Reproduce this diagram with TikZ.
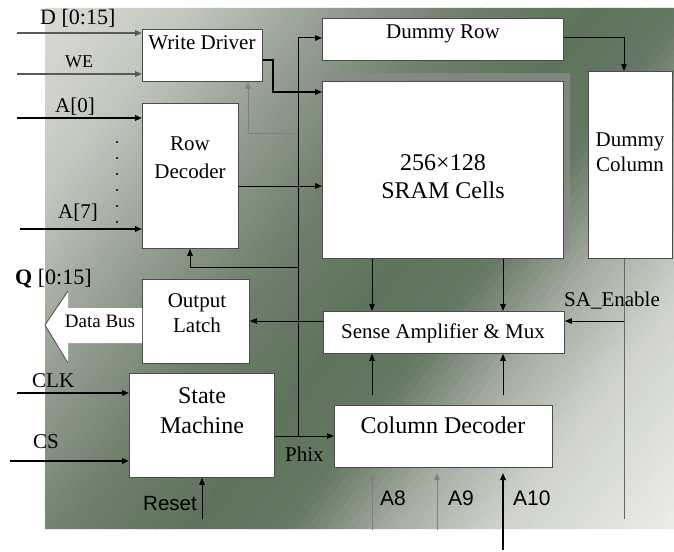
\documentclass[tikz,border=0pt]{standalone}
\usepackage{fontspec}
\setmainfont{Liberation Serif}
\newfontfamily\sansfam{Liberation Sans}
\usetikzlibrary{arrows.meta}
\definecolor{g0}{HTML}{DCDFD9}
\definecolor{g1}{HTML}{C3C8BF}
\definecolor{g2}{HTML}{929C8F}
\definecolor{g3}{HTML}{6E7F6B}
\definecolor{g4}{HTML}{5E725C}
\definecolor{g5}{HTML}{657863}
\definecolor{g6}{HTML}{A3AB9F}
\definecolor{g7}{HTML}{CFD3CC}
\definecolor{g8}{HTML}{ECEEEA}
\newcommand\bgseg[4]{%
  \pgfmathtruncatemacro\segn{(#2-#1)/12}%
  \foreach \i in {1,...,\segn}{%
    \pgfmathsetmacro\sa{#1+(\i-1)*(#2-#1)/\segn}%
    \pgfmathsetmacro\sb{#1+\i*(#2-#1)/\segn+2}%
    \pgfmathsetmacro\pc{(\i-0.5)/\segn*100}%
    \fill[#4!\pc!#3] ({(\sa-8)/1.3},8) -- ({(\sb-8)/1.3},8) -- ({(\sb-529)/1.3},529) -- ({(\sa-529)/1.3},529) -- cycle;
  }}
\begin{document}
\begin{tikzpicture}[x=1pt,y=-1pt,
  >={Triangle[length=7pt,width=5.5pt]},
  box/.style={draw=black!70, line width=0.8pt, fill=white, inner sep=0pt, anchor=north west},
  btxt/.style={font=\fontsize{21}{24}\selectfont, inner sep=0pt, anchor=base},
  bigtxt/.style={font=\fontsize{24}{28}\selectfont, inner sep=0pt, anchor=base},
  lab/.style={font=\fontsize{21}{24}\selectfont, inner sep=0pt, anchor=base west},
  slab/.style={font=\sansfam\fontsize{21}{24}\selectfont, inner sep=0pt, anchor=base west},
  wire/.style={draw=black, line width=1pt},
  twire/.style={draw=black, line width=1.7pt},
  gwire/.style={draw=black!65, line width=1.7pt},
  lwire/.style={draw=black!50, line width=1pt}]
\useasboundingbox (0,0) rectangle (674,551);
\fill[white] (0,0) rectangle (674,551);
% background gradient
\begin{scope}
\clip (45,8) rectangle (674,529);
\bgseg{40}{250}{g0}{g1}
\bgseg{250}{450}{g1}{g2}
\bgseg{450}{620}{g2}{g3}
\bgseg{620}{780}{g3}{g4}
\bgseg{780}{900}{g4}{g5}
\bgseg{900}{1030}{g5}{g6}
\bgseg{1030}{1180}{g6}{g7}
\bgseg{1180}{1420}{g7}{g8}
\end{scope}
% shadow of SRAM
\fill[black!45, opacity=0.75] (329,73) rectangle (570,250);
% boxes
\node[box, minimum width=120, minimum height=52] (wd) at (142,29) {};
\node[box, minimum width=96, minimum height=145] (rd) at (142,103) {};
\node[box, minimum width=241, minimum height=42] (dr) at (322,18) {};
\node[box, minimum width=241, minimum height=177] (sram) at (322,81) {};
\node[box, minimum width=84, minimum height=187] (dc) at (588,71) {};
\node[box, minimum width=107, minimum height=84] (ol) at (142,279) {};
\node[box, minimum width=145, minimum height=104] (sm) at (129,373) {};
\node[box, minimum width=241, minimum height=42] (sa) at (323,311) {};
\node[box, minimum width=218, minimum height=62] (cd) at (334,405) {};
% box texts
\node[btxt] (wdt) at (202,49) {Write Driver};
\node[btxt] (rdt1) at (190,150) {Row};
\node[btxt] (rdt2) at (190,178) {Decoder};
\node[btxt] (drt) at (443,39) {Dummy Row};
\node[bigtxt] (sramt1) at (443,170) {256×128};
\node[bigtxt] (sramt2) at (443,198) {SRAM Cells};
\node[btxt] (dct1) at (630,146) {Dummy};
\node[btxt] (dct2) at (630,171) {Column};
\node[btxt] (olt1) at (197,307) {Output};
\node[btxt] (olt2) at (197,332) {Latch};
\node[bigtxt] (smt1) at (202,403) {State};
\node[bigtxt] (smt2) at (202,433) {Machine};
\node[btxt] (sat) at (443,338) {Sense Amplifier \& Mux};
\node[bigtxt] (cdt) at (443,433) {Column Decoder};
% data bus arrow
\fill[white] (142,308) -- (68,308) -- (68,291) -- (45,325) -- (68,363) -- (68,343) -- (142,343) -- cycle;
\draw[black!70, line width=0.8pt] (68,291) -- (45,325) -- (68,363);
\node[btxt, font=\fontsize{19}{22}\selectfont] (dbt) at (100,327) {Data Bus};
% coordinates
\coordinate (dIn) at (17,33);
\coordinate (weIn) at (17,74);
\coordinate (a0In) at (17,118);
\coordinate (a7In) at (20,229);
\coordinate (clkIn) at (17,393);
\coordinate (csIn) at (10,461);
\coordinate (resetIn) at (202,519);
\coordinate (a8In) at (372,530);
\coordinate (a9In) at (437,530);
\coordinate (a10In) at (503,550);
\coordinate (cdbot) at (0,473);
\coordinate (cdtop) at (0,395);
\coordinate (busTop) at (298,38);
\coordinate (busBot) at (298,436);
\coordinate (fb1) at (298,133);
\coordinate (fb1x) at (248,133);
\coordinate (fb2) at (298,267);
\coordinate (fb2x) at (190,267);
\coordinate (wdo) at (0,60);
\coordinate (wd1) at (273,60);
\coordinate (wd2) at (273,92);
\coordinate (rdo) at (0,186);
\coordinate (drc) at (624,38);
\coordinate (c1) at (372,0);
\coordinate (c2) at (503,0);
\coordinate (dcl) at (624,0);
\coordinate (dcend) at (0,519);
\coordinate (saen) at (0,321);
% inputs
\draw[gwire,->] (dIn) -- (wd.west |- dIn);
\draw[gwire,->] (weIn) -- (wd.west |- weIn);
\draw[twire,->] (a0In) -- (rd.west |- a0In);
\draw[twire,->] (a7In) -- (rd.west |- a7In);
\draw[twire,->] (clkIn) -- (sm.west |- clkIn);
\draw[twire,->] (csIn) -- (sm.west |- csIn);
\draw[wire,->] (resetIn) -- (resetIn |- sm.south);
\draw[lwire,->] (a8In) -- (a8In |- cdbot);
\draw[lwire,->] (a9In) -- (a9In |- cdbot);
\draw[twire,->] (a10In) -- (a10In |- cdbot);
% dots
\foreach \y in {142,158,174,190,206,222} \fill (117,\y) circle (1.2);
% control bus
\draw[wire] (sm.east |- busBot) -- (busBot);
\draw[wire,->] (busBot) -- (cd.west |- busBot);
\draw[wire,->] (busBot) -- (busTop) -- (dr.west |- busTop);
\draw[lwire,->] (fb1) -- (fb1x) -- (fb1x |- wd.south);
\draw[wire,->] (fb2) -- (fb2x) -- (fb2x |- rd.south);
% data paths
\draw[line width=1.4pt,->] (wd.east |- wdo) -- (wd1) -- (wd2) -- (sram.west |- wd2);
\draw[wire,->] (rd.east |- rdo) -- (sram.west |- rdo);
\draw[wire,->] (dr.east |- drc) -- (drc) -- (drc |- dc.north);
\draw[wire,->] (sram.south -| c1) -- (sa.north -| c1);
\draw[wire,->] (sram.south -| c2) -- (sa.north -| c2);
\draw[wire,->] (cdtop -| c1) -- (sa.south -| c1);
\draw[wire,->] (cdtop -| c2) -- (sa.south -| c2);
\draw[draw=black!60, line width=1pt] (dc.south -| dcl) -- (dcl |- dcend);
\draw[wire,->] (dcl |- saen) -- (sa.east |- saen);
\draw[wire,->] (sa.west |- saen) -- (ol.east |- saen);
% labels
\node[lab, font=\fontsize{22}{24}\selectfont] (lD) at (40,25) {D [0:15]};
\node[lab, font=\fontsize{18}{20}\selectfont] (lWE) at (65,67) {WE};
\node[lab] (lA0) at (55,112) {A[0]};
\node[lab] (lA7) at (58,218) {A[7]};
\node[lab, font=\fontsize{22}{24}\selectfont] (lQ) at (15,284) {\textbf{Q} [0:15]};
\node[lab] (lCLK) at (32,387) {CLK};
\node[lab] (lCS) at (33,448) {CS};
\node[slab, font=\sansfam\fontsize{20.5}{24}\selectfont] (lReset) at (143,510) {Reset};
\node[lab] (lPhix) at (285,461) {Phix};
\node[slab] (lA8) at (380,505) {A8};
\node[slab] (lA9) at (448,505) {A9};
\node[slab] (lA10) at (513,505) {A10};
\node[lab] (lSA) at (564,306) {SA\_Enable};
\end{tikzpicture}
\end{document}
